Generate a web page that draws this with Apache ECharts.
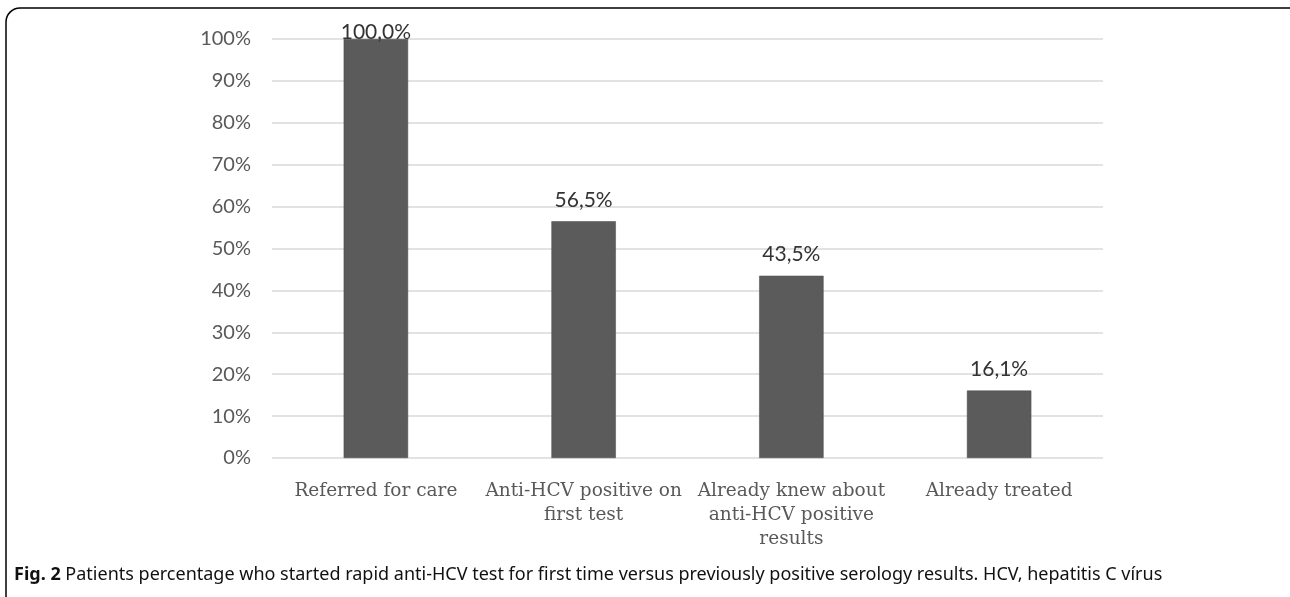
<!DOCTYPE html>
<html>
<head>
<meta charset="utf-8">
<script src="https://cdn.jsdelivr.net/npm/echarts@6/dist/echarts.min.js"></script>
<style>
html,body{margin:0;padding:0;background:#fff;}
#chart{width:1290px;height:597px;}
</style>
</head>
<body>
<div id="chart"></div>
<script>
const categories = ['Referred for care', 'Anti-HCV positive on\nfirst test', 'Already knew about\nanti-HCV positive\nresults', 'Already treated'];
const values = [100.0, 56.5, 43.5, 16.1];
const yTicks = [0, 10, 20, 30, 40, 50, 60, 70, 80, 90, 100];
const captionBold = 'Fig. 2';
const captionText = ' Patients percentage who started rapid anti-HCV test for first time versus previously positive serology results. HCV, hepatitis C vírus';

const chart = echarts.init(document.getElementById('chart'), null, {renderer: 'canvas'});
const fmt = v => v.toFixed(1).replace('.', ',') + '%';

const option = {
  animation: false,
  backgroundColor: '#fff',
  grid: {left: 272, right: 187, top: 39, bottom: 139},
  xAxis: {
    type: 'category',
    data: categories,
    axisLine: {show: false},
    axisTick: {show: false},
    axisLabel: {
      interval: 0,
      margin: 21,
      color: '#595959',
      fontFamily: 'DejaVu Serif',
      fontSize: 18.5,
      lineHeight: 24
    }
  },
  yAxis: {
    type: 'value',
    min: yTicks[0],
    max: yTicks[yTicks.length - 1],
    interval: 10,
    axisLine: {show: false},
    axisTick: {show: false},
    splitLine: {lineStyle: {color: '#d9d9d9', width: 1.5}},
    axisLabel: {
      margin: 21,
      color: '#595959',
      fontFamily: 'Lato',
      fontSize: 20,
      formatter: v => v + '%'
    }
  },
  series: [{
    type: 'bar',
    barWidth: '31%',
    data: values.map((v, i) => i === 0 ? {value: v, label: {distance: -4}} : v),
    itemStyle: {color: '#5b5b5b', borderColor: '#4a4a4a', borderWidth: 0.5},
    label: {
      show: true,
      position: 'top',
      distance: 11,
      color: '#333',
      fontFamily: 'Lato',
      fontSize: 21,
      formatter: p => fmt(p.value)
    }
  }],
  graphic: [
    {
      type: 'rect',
      shape: {x: 6, y: 8, width: 1300, height: 620, r: 14},
      style: {fill: 'none', stroke: '#000', lineWidth: 1.5},
      silent: true
    },
    {
      type: 'text',
      left: 14,
      top: 566,
      style: {
        text: '{b|' + captionBold + '}' + captionText,
        fontFamily: 'Noto Sans',
        fontSize: 18,
        fill: '#111',
        rich: {b: {fontWeight: 'bold', fontFamily: 'Noto Sans', fontSize: 18, fill: '#111'}}
      }
    }
  ]
};
chart.setOption(option);
</script>
</body>
</html>
